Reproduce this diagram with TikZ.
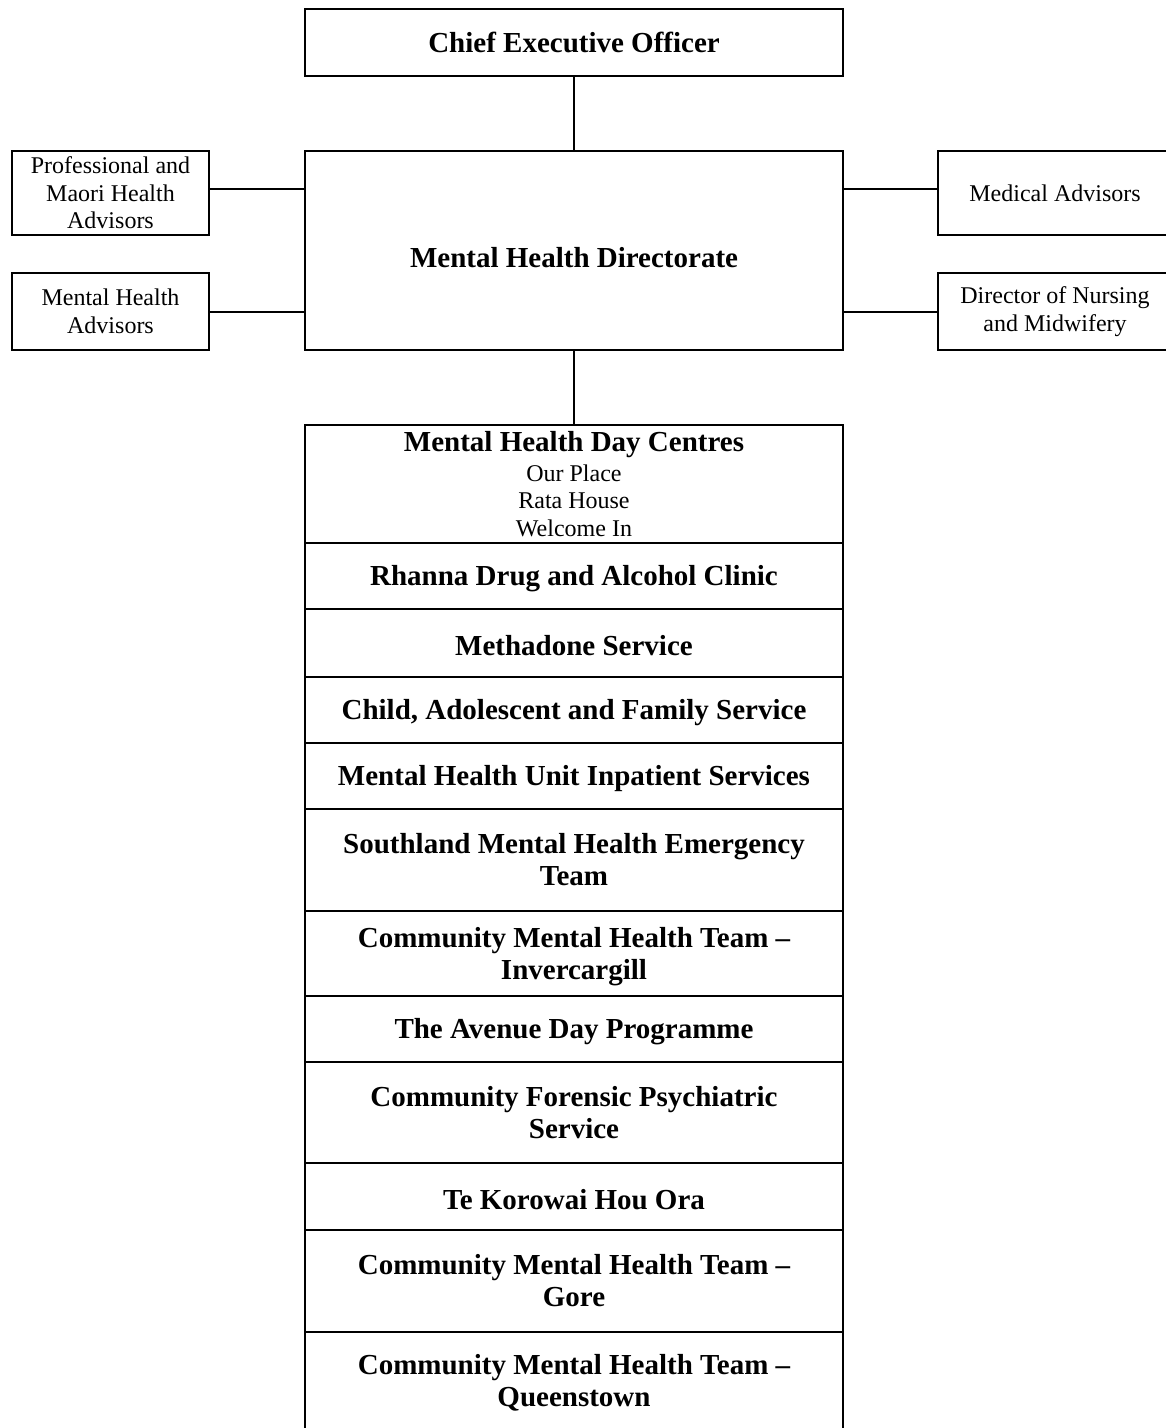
\documentclass[tikz,border=0pt]{standalone}
\usepackage{fontspec}
\setmainfont{Liberation Serif}
\newcommand{\bigbold}{\fontsize{29}{33}\selectfont\bfseries}
\newcommand{\smallreg}{\fontsize{24}{27.6}\selectfont}
\newcommand{\dropdown}[1]{\raisebox{-3pt}[\height][\depth]{#1}}
\tikzset{
  box/.style={draw, line width=2pt, inner sep=0pt, align=center, font=\smallreg},
  bbox/.style={box, font=\bigbold},
  rowbox/.style={bbox, minimum width=538pt},
  conn/.style={line width=2pt}
}
\begin{document}
\begin{tikzpicture}[x=1pt,y=-1pt]
\clip (0,0) rectangle (1166,1428);
\fill[white] (0,0) rectangle (1166,1428);
% top level
\node[bbox, minimum width=538pt, minimum height=67pt] (ceo) at (574,42.5) {Chief Executive Officer};
\node[bbox, minimum width=538pt, minimum height=199pt] (mhd) at (574,250.5) {\raisebox{-7pt}[\height][\depth]{Mental Health Directorate}};
% side advisors
\node[box, minimum width=197pt, minimum height=84pt] (pm) at (110.5,193) {Professional and\\Maori Health\\Advisors};
\node[box, minimum width=197pt, minimum height=77pt] (mha) at (110.5,311.5) {Mental Health\\Advisors};
\node[box, minimum width=234pt, minimum height=84pt] (med) at (1055,193) {Medical Advisors};
\node[box, minimum width=234pt, minimum height=77pt] (dir) at (1055,311.5) {Director of Nursing\\and Midwifery};
% service stack
\node[rowbox, minimum height=118pt] (r1) at (574,484) {Mental Health Day Centres\\[-3pt]{\smallreg\mdseries Our Place}\\[-5.5pt]{\smallreg\mdseries Rata House}\\[-5.5pt]{\smallreg\mdseries Welcome In}};
\node[rowbox, minimum height=66pt] (r2) at (574,576) {\dropdown{Rhanna Drug and Alcohol Clinic}};
\node[rowbox, minimum height=68pt] (r3) at (574,643) {\dropdown{Methadone Service}};
\node[rowbox, minimum height=66pt] (r4) at (574,710) {\dropdown{Child, Adolescent and Family Service}};
\node[rowbox, minimum height=66pt] (r5) at (574,776) {\dropdown{Mental Health Unit Inpatient Services}};
\node[rowbox, minimum height=102pt] (r6) at (574,860) {\dropdown{\begin{tabular}{@{}c@{}}Southland Mental Health Emergency\\[-1pt]Team\end{tabular}}};
\node[rowbox, minimum height=85pt] (r7) at (574,953.5) {\dropdown{\begin{tabular}{@{}c@{}}Community Mental Health Team –\\[-1pt]Invercargill\end{tabular}}};
\node[rowbox, minimum height=66pt] (r8) at (574,1029) {\dropdown{The Avenue Day Programme}};
\node[rowbox, minimum height=101pt] (r9) at (574,1112.5) {\dropdown{\begin{tabular}{@{}c@{}}Community Forensic Psychiatric\\[-1pt]Service\end{tabular}}};
\node[rowbox, minimum height=67pt] (r10) at (574,1196.5) {\dropdown{Te Korowai Hou Ora}};
\node[rowbox, minimum height=102pt] (r11) at (574,1281) {\dropdown{\begin{tabular}{@{}c@{}}Community Mental Health Team –\\[-1pt]Gore\end{tabular}}};
\node[rowbox, minimum height=104pt] (r12) at (574,1384) {\begin{tabular}{@{}c@{}}Community Mental Health Team –\\[-1pt]Queenstown\end{tabular}};
% connectors
\draw[conn] (ceo.south) -- (mhd.north);
\draw[conn] (mhd.south) -- (r1.north);
\draw[conn] ([yshift=4pt]pm.east) -- ([yshift=4pt]pm.east -| mhd.west);
\draw[conn] (mha.east) -- (mha.east -| mhd.west);
\draw[conn] ([yshift=4pt]med.west) -- ([yshift=4pt]med.west -| mhd.east);
\draw[conn] (dir.west) -- (dir.west -| mhd.east);
\end{tikzpicture}
\end{document}
